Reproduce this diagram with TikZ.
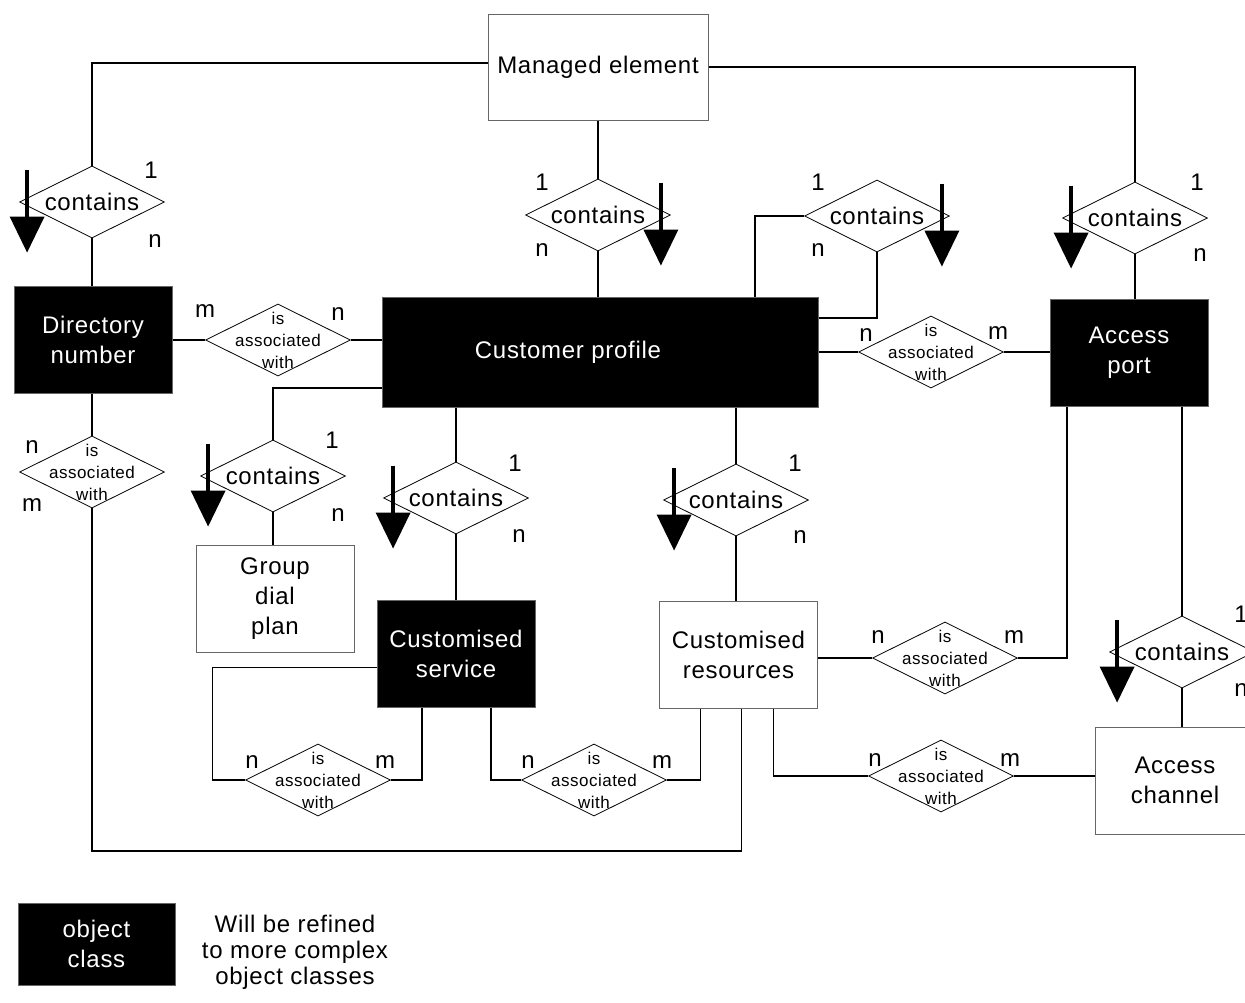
\documentclass[tikz,border=0pt]{standalone}
\usepackage{fontspec}
\setmainfont{Liberation Sans}[LetterSpace=3]
\usetikzlibrary{shapes.geometric}
\usetikzlibrary{arrows.meta}
\usetikzlibrary{calc}

\newcommand{\boxfont}{\fontsize{24}{30}\selectfont}
\newcommand{\assocfont}{\fontsize{17}{22}\selectfont}
\newcommand{\containsarrow}[3]{\draw[downarrow] ($(#1.#2 |- #1.north)+(#3,4)$) -- ++(0,83);}

\tikzset{
    objbox/.style={draw=black!60, line width=1pt, fill=black, text=white, align=center, font=\boxfont, minimum width=158pt, minimum height=107pt},
    plainbox/.style={draw=black!60, line width=1pt, fill=white, align=center, font=\boxfont, minimum width=158pt, minimum height=107pt},
    contains/.style={diamond, draw, line width=0.8pt, fill=white, aspect=2, inner sep=0pt, minimum width=145pt, minimum height=72pt, font=\boxfont},
    assoc/.style={diamond, draw, line width=0.8pt, fill=white, inner sep=0pt, minimum width=145pt, minimum height=72pt,
        label={[font=\assocfont, align=center]center:is\\associated\\with}},
    card/.style={font=\boxfont, inner sep=0pt},
    link/.style={line width=1.5pt},
    downarrow/.style={line width=3.5pt, -{Triangle[length=36pt,width=34pt]}}
}

\begin{document}
\begin{tikzpicture}[x=1pt, y=-1pt]
    \useasboundingbox (0,0) rectangle (1245,1002);
    \clip (0,0) rectangle (1245,1002);
    \fill[white] (0,0) rectangle (1245,1002);
    % boxes %
    \node[plainbox, minimum width=220pt, minimum height=106pt] (me) at (598,67) {Managed element};
    \node[objbox] (dn) at (93,339.5) {Directory\\number};
    \node[objbox, minimum width=436pt, minimum height=110pt,
        label={[font=\boxfont, text=white, xshift=-32pt]center:Customer profile}] (cp) at (600,352) {};
    \node[objbox] (ap) at (1129,353) {Access\\port};
    \node[plainbox] (gdp) at (275,598.5) {Group\\dial\\plan};
    \node[objbox] (cs) at (456,653.5) {Customised\\service};
    \node[plainbox] (cr) at (738.5,654.5) {Customised\\resources};
    \node[plainbox, minimum width=160pt] (ac) at (1175,780.5) {Access\\channel};
    % relations %
    \node[contains] (c1) at (92,202) {contains};
    \node[contains] (c2) at (598,215) {contains};
    \node[contains] (c3) at (877,216) {contains};
    \node[contains] (c4) at (1135,218) {contains};
    \node[contains] (c5) at (273,476) {contains};
    \node[contains] (c6) at (456,498) {contains};
    \node[contains] (c7) at (736,500) {contains};
    \node[contains] (c8) at (1182,652) {contains};
    \node[assoc] (a1) at (278,340) {};
    \node[assoc] (a2) at (931,352) {};
    \node[assoc] (a3) at (92,472) {};
    \node[assoc] (a4) at (945,658) {};
    \node[assoc] (a5) at (318,780) {};
    \node[assoc] (a6) at (594,780) {};
    \node[assoc] (a7) at (941,776) {};
    % edges %
    \draw[link] ([yshift=4pt]me.west) -| (c1.north);
    \draw[link] (me.east) -| (c4.north);
    \draw[link] (me.south) -- (c2.north);
    \draw[link] (c1.south) -- (c1.south |- dn.north);
    \draw[link] (c2.south) -- (c2.south |- cp.north);
    \draw[link] ([xshift=155pt]cp.north) |- (c3.west);
    \draw[link] (c3.south) |- ([yshift=34pt]cp.east);
    \draw[link] (c4.south) -- (c4.south |- ap.north);
    \draw[link] (dn.east |- a1.west) -- (a1.west);
    \draw[link] (a1.east) -- (a1.east -| cp.west);
    \draw[link] (cp.east) -- (a2.west);
    \draw[link] (a2.east) -- (a2.east -| ap.west);
    \draw[link] (a3.north |- dn.south) -- (a3.north);
    \coordinate (bend) at (92,851);
    \draw[link] (a3.south) -- (bend) -| ([xshift=3pt]cr.south);
    \draw[link] ([yshift=-36pt]cp.west) -| (c5.north);
    \draw[link] (c5.south) -- (c5.south |- gdp.north);
    \draw[link] (c6.north |- cp.south) -- (c6.north);
    \draw[link] (c6.south) -- (c6.south |- cs.north);
    \draw[link] (c7.north |- cp.south) -- (c7.north);
    \draw[link] (c7.south) -- (c7.south |- cr.north);
    \draw[link] (a4.west -| cr.east) -- (a4.west);
    \draw[link] (a4.east) -| ([xshift=-62pt]ap.south);
    \draw[link] ([xshift=53pt]ap.south) -- (c8.north);
    \draw[link] (c8.south) -- (c8.south |- ac.north);
    \draw[link] ([yshift=-14pt]cs.west) -- ++(-164,0) |- (a5.west);
    \draw[link] (a5.east) -| ([xshift=-34pt]cs.south);
    \draw[link] ([xshift=35pt]cs.south) |- (a6.west);
    \draw[link] (a6.east) -| ([xshift=-38pt]cr.south);
    \draw[link] ([xshift=35pt]cr.south) |- (a7.west);
    \draw[link] (a7.east) -- (a7.east -| ac.west);
    % direction marks %
    \containsarrow{c1}{west}{8}
    \containsarrow{c2}{east}{-10}
    \containsarrow{c3}{east}{-8}
    \containsarrow{c4}{west}{9}
    \containsarrow{c5}{west}{8}
    \containsarrow{c6}{west}{10}
    \containsarrow{c7}{west}{11}
    \containsarrow{c8}{west}{8}
    % cardinalities %
    \node[card] (c1one) at (151,170) {1};
    \node[card] (c1n) at (155,241) {n};
    \node[card] (c2one) at (542,182) {1};
    \node[card] (c2n) at (542,250) {n};
    \node[card] (c3one) at (818,182) {1};
    \node[card] (c3n) at (818,250) {n};
    \node[card] (c4one) at (1197,182) {1};
    \node[card] (c4n) at (1200,255) {n};
    \node[card] (c5one) at (332,440) {1};
    \node[card] (c5n) at (338,515) {n};
    \node[card] (c6one) at (515,463) {1};
    \node[card] (c6n) at (519,536) {n};
    \node[card] (c7one) at (795,463) {1};
    \node[card] (c7n) at (800,537) {n};
    \node[card] (c8one) at (1241,614) {1};
    \node[card] (c8n) at (1241,690) {n};
    \node[card] (a1m) at (205,311) {m};
    \node[card] (a1n) at (338,314) {n};
    \node[card] (a2n) at (866,335) {n};
    \node[card] (a2m) at (998,333) {m};
    \node[card] (a3n) at (32,447) {n};
    \node[card] (a3m) at (32,505) {m};
    \node[card] (a4n) at (878,637) {n};
    \node[card] (a4m) at (1014,637) {m};
    \node[card] (a5n) at (252,762) {n};
    \node[card] (a5m) at (385,762) {m};
    \node[card] (a6n) at (528,762) {n};
    \node[card] (a6m) at (662,762) {m};
    \node[card] (a7n) at (875,760) {n};
    \node[card] (a7m) at (1010,760) {m};
    % legend %
    \node[objbox, minimum width=157pt, minimum height=82pt] (legbox) at (96.5,944) {object\\class};
    \node[font=\fontsize{24}{26}\selectfont, align=center] (legtext) at (295,952) {Will be refined\\to more complex\\object classes};
\end{tikzpicture}
\end{document}
